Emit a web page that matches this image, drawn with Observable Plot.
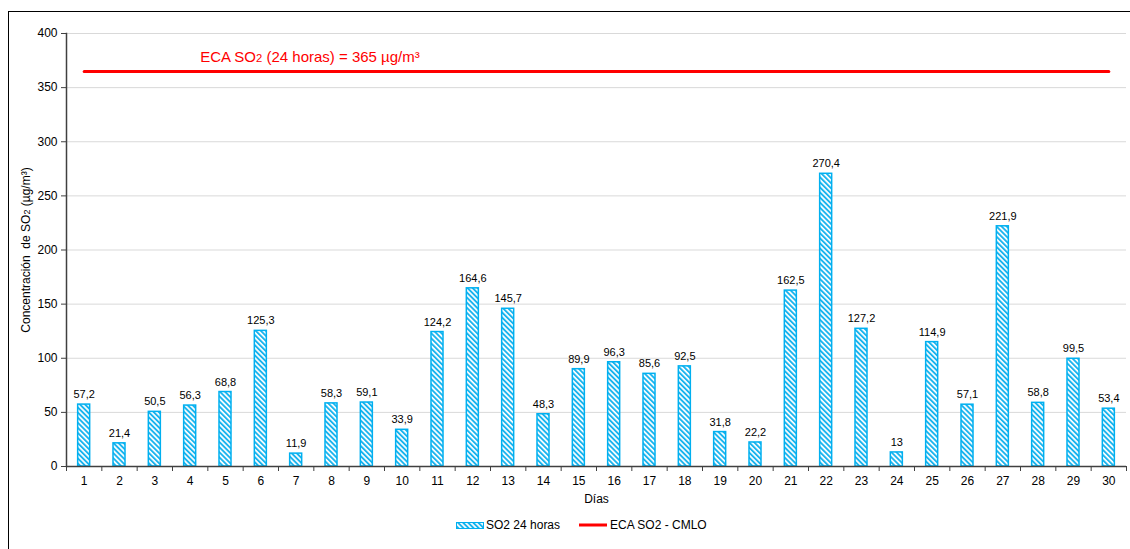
<!DOCTYPE html>
<html><head><meta charset="utf-8">
<script src="https://cdn.jsdelivr.net/npm/d3@7"></script>
<script src="https://cdn.jsdelivr.net/npm/@observablehq/plot@0.6"></script>
<style>
body{margin:0;background:#fff;font-family:"Liberation Sans",Arial,sans-serif;}
#wrap{position:relative;width:1130px;height:549px;overflow:hidden;}
#frame{position:absolute;left:8px;top:11px;width:1200px;height:600px;border-left:1.5px solid #000;border-top:1.5px solid #000;pointer-events:none}
#chart{position:absolute;left:0;top:0}
#legend{position:absolute;top:517px;left:0;width:1130px;height:16px;font-size:12px;color:#000}
#legend .it{position:absolute;top:0;line-height:16px;white-space:nowrap}
</style></head><body>
<div id="wrap"><div id="chart"></div><div id="legend"></div><div id="frame"></div></div>
<script>
const days = [1,2,3,4,5,6,7,8,9,10,11,12,13,14,15,16,17,18,19,20,21,22,23,24,25,26,27,28,29,30];
const so2Values = [57.2,21.4,50.5,56.3,68.8,125.3,11.9,58.3,59.1,33.9,124.2,164.6,145.7,48.3,89.9,96.3,85.6,92.5,31.8,22.2,162.5,270.4,127.2,13,114.9,57.1,221.9,58.8,99.5,53.4];
const ecaValue = 365;
const yTicks = [0,50,100,150,200,250,300,350,400];
const seriesNames = ["SO2 24 horas","ECA SO2 - CMLO"];
const annotation = "ECA SO2 (24 horas) = 365 µg/m³";
const yLabel = "Concentración  de SO2 (µg/m³)";
const xLabel = "Días";

const W=1130,H=510,mL=66,mR=4,mT=33,mB=44;
const step=(W-mL-mR)/days.length;
const data = days.map((d,i)=>({day:d,value:so2Values[i],label:String(so2Values[i]).replace(".",",")}));
const ecaData = [{day:days[0],value:ecaValue},{day:days[days.length-1],value:ecaValue}];

const chart = Plot.plot({
  width:W,height:H,marginLeft:mL,marginRight:mR,marginTop:mT,marginBottom:mB,
  style:{fontFamily:"'Liberation Sans', Arial, sans-serif",fontSize:"12px",color:"#000",background:"transparent",overflow:"visible"},
  x:{type:"band",domain:days,paddingInner:0.66,paddingOuter:0.33,round:false},
  y:{domain:[0,400]},
  marks:[
    Plot.gridY(yTicks,{stroke:"#d9d9d9",strokeOpacity:1,strokeWidth:1}),
    Plot.barY(data,{x:"day",y:"value",fill:"url(#hatch)",stroke:"#00b0f0",strokeWidth:1.5}),
    Plot.text(data,{x:"day",y:"value",text:"label",dy:-10,fontSize:11,fill:"#000"}),
    Plot.lineY(ecaData,{x:"day",y:"value",stroke:"#ff0000",strokeWidth:3}),
    Plot.text([ecaValue],{x:days[3],y:d=>d,text:()=>annotation,textAnchor:"start",dx:10,dy:-14,fill:"#ff0000",fontSize:15}),
    Plot.ruleY([0],{stroke:"#404040",strokeWidth:1.5}),
    Plot.ruleX(days,{x:d=>d,y1:0,y2:0,dx:step/2,insetBottom:-5,stroke:"#404040"}),
    Plot.ruleX([days[0]],{x:d=>d,y1:0,y2:0,dx:-step/2,insetBottom:-5,stroke:"#404040"}),
    Plot.axisY(yTicks,{tickSize:5,tickPadding:4,stroke:"#404040",label:yLabel,labelAnchor:"center",labelArrow:"none",labelOffset:45}),
    Plot.frame({anchor:"left",stroke:"#404040",strokeWidth:1.5}),
    Plot.axisX({tickSize:0,tickPadding:10,label:xLabel,labelAnchor:"center",labelArrow:"none",labelOffset:36})
  ]
});

const svg = d3.select(chart.tagName.toLowerCase()==="svg"?chart:chart.querySelector("svg"));
const defs = svg.insert("defs",":first-child");
const pat = defs.append("pattern").attr("id","hatch").attr("patternUnits","userSpaceOnUse")
  .attr("width",3.6).attr("height",3.6).attr("patternTransform","rotate(-45)");
pat.append("rect").attr("width",3.6).attr("height",3.6).attr("fill","#ffffff");
pat.append("rect").attr("width",1.9).attr("height",3.6).attr("fill","#1ab4ee");

// subscript "2" in SO2 for annotation and axis label
svg.selectAll("text").each(function(){
  const el=d3.select(this);
  const t=this.textContent;
  if(this.childElementCount===0 && (t===annotation || t===yLabel)){
    const parts=t.split("SO2");
    el.text(null);
    el.append("tspan").text(parts[0]+"SO");
    el.append("tspan").attr("font-size","75%").text("2");
    el.append("tspan").text(parts[1]);
    el.attr("xml:space","preserve");
  }
});
document.getElementById("chart").appendChild(chart);

const leg=document.getElementById("legend");
leg.innerHTML=`
<svg class="it" style="left:456px;top:5px" width="28" height="7"><defs><pattern id="hatch2" patternUnits="userSpaceOnUse" width="3.6" height="3.6" patternTransform="rotate(-45)"><rect width="3.6" height="3.6" fill="#fff"/><rect width="1.9" height="3.6" fill="#1ab4ee"/></pattern></defs><rect x="0.5" y="0.5" width="27" height="6" fill="url(#hatch2)" stroke="#00b0f0"/></svg>
<span class="it" style="left:486px">${seriesNames[0]}</span>
<svg class="it" style="left:579px;top:6px" width="28" height="4"><line x1="0" x2="28" y1="2" y2="2" stroke="#ff0000" stroke-width="3"/></svg>
<span class="it" style="left:610px">${seriesNames[1]}</span>`;
</script>
</body></html>
